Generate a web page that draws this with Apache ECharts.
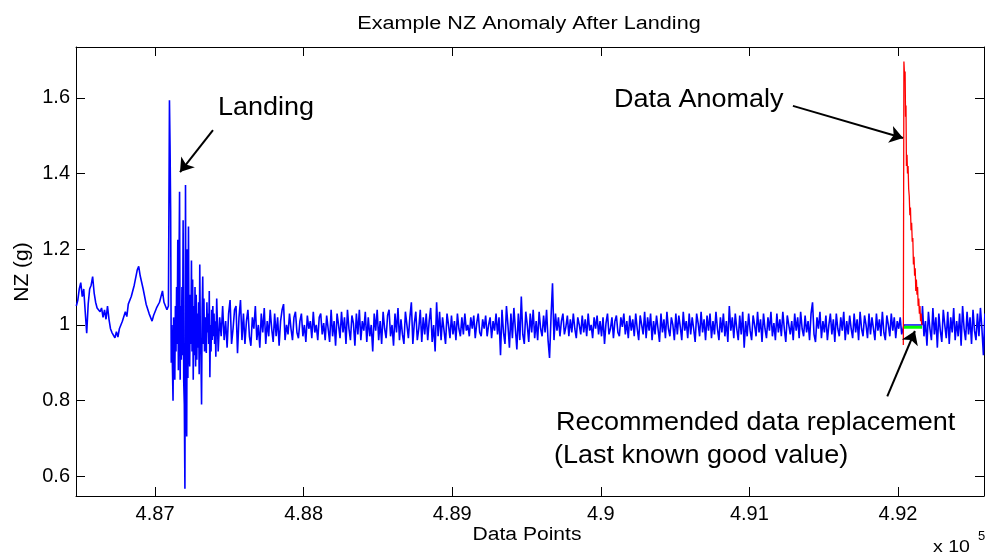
<!DOCTYPE html>
<html>
<head>
<meta charset="utf-8">
<script src="https://cdn.jsdelivr.net/npm/echarts@6/dist/echarts.min.js"></script>
<style>
html,body{margin:0;padding:0;background:#ffffff;}
#chart{width:985px;height:556px;}
</style>
</head>
<body>
<div id="chart"></div>
<script>
// ---------- axis ticks ----------
const xTicks = [487000, 488000, 489000, 490000, 491000, 492000];
const yTicks = [0.6, 0.8, 1.0, 1.2, 1.4, 1.6];
const xRange = [486468, 492579];
const yRange = [0.548, 1.7345];

// ---------- blue NZ trace ----------
// pre-landing
const preLandingStart = 486470, preLandingStep = 10;
const preLanding = [
  1.05, 1.065, 1.095, 1.112, 1.075, 1.095, 1.035, 0.978, 1.055, 1.095,
  1.105, 1.128, 1.085, 1.06, 1.045, 1.05, 1.035, 1.045, 1.02, 1.04,
  1.015, 1.05, 1.015, 0.99, 0.98, 0.982, 0.966, 0.982, 0.968, 0.99,
  0.985, 1.01, 1.01, 1.035, 1.022, 1.055, 1.055, 1.075, 1.08, 1.105,
  1.11, 1.145, 1.155, 1.13, 1.13, 1.095, 1.09, 1.055, 1.05, 1.03,
  1.03, 1.01, 1.025, 1.025, 1.045, 1.045, 1.06, 1.065, 1.09, 1.06,
  1.065, 1.04, 1.05
];
// touchdown
const landingStart = 487093, landingStep = 4;
const landing = [
  1.28, 1.594, 1.47, 1.30, 0.90, 1.00, 0.89, 0.80, 1.02, 0.92,
  0.855, 1.05, 0.93, 1.10, 0.95, 1.225, 0.88, 1.15, 1.352, 0.855,
  1.05, 0.908, 1.10, 0.92, 1.277, 0.85, 0.79, 0.567, 1.37, 0.80,
  0.705, 1.20, 0.86, 1.26, 0.93, 0.89, 1.08, 0.95, 1.17, 0.93,
  1.12, 0.855, 1.05, 0.92, 1.10, 0.89, 1.08, 0.908, 1.03, 0.94,
  1.06, 0.87, 1.16, 0.96, 0.92, 0.79, 1.04, 1.128, 0.95, 1.07,
  0.93, 1.02, 0.96, 0.926, 1.06, 0.98, 1.03, 0.95, 1.09, 0.862,
  1.00, 0.93, 1.04, 0.96, 1.05, 0.97, 1.03, 0.95, 1.01, 0.916
];
// rollout
const rolloutStart = 487415, rolloutStep = 10;
const rollout = [
  1.07, 0.93, 1.02, 0.97, 1.05, 0.96, 1.01, 0.94, 1.03, 1.066,
  0.95, 0.99, 1.04, 1.05, 0.925, 1.02, 1.066, 0.96, 1.03, 0.95,
  1.01, 1.04, 0.97, 0.945, 1.02, 0.99, 1.05, 0.96, 1.00, 0.94,
  1.03, 0.98, 1.045, 0.95, 1.01, 0.97, 1.04, 0.99, 0.955, 1.03,
  0.97, 1.02, 0.945, 1.01, 1.04, 1.055, 0.96, 1.00, 0.975, 1.03,
  0.99, 0.96, 1.02, 1.035, 0.98, 0.965, 1.01, 1.03, 0.97, 1.00,
  0.955, 1.025, 0.99, 1.01, 0.965, 1.035, 0.98, 1.00, 0.96, 1.02,
  1.03, 0.975, 1.005, 0.96, 1.025, 0.99, 0.955, 1.04, 0.97, 1.01,
  0.945, 1.03, 1.00, 0.965, 1.035, 0.98, 1.02, 0.95, 1.04, 0.99,
  0.96, 1.025, 1.005, 0.945, 1.03, 0.975, 1.04, 0.96, 1.01, 0.985,
  1.035, 0.955, 1.02, 0.97, 1.00, 0.93, 1.03, 0.985, 1.04, 0.96,
  1.01, 0.95, 1.035, 0.99, 0.965, 1.025, 1.04, 0.97, 1.00, 0.945,
  1.03, 0.98, 1.045, 0.96, 1.015, 0.975, 0.95, 1.035, 1.00, 0.965,
  1.02, 1.06, 0.95, 1.005, 1.035, 0.96, 0.99, 1.04, 0.955, 1.02,
  0.975, 1.03, 0.96, 1.01, 1.045, 0.955, 1.00, 0.93, 1.06, 0.97,
  1.035, 0.96, 1.02, 0.985, 0.95, 1.03, 1.00, 0.965, 1.025, 0.975,
  1.01, 0.96, 1.03, 0.99, 0.97, 1.02, 0.975, 1.03, 0.985, 1.00,
  0.97, 1.02, 0.99, 1.025, 0.965, 1.005, 1.03, 0.98, 0.97, 1.015,
  0.99, 1.025, 0.97, 1.00, 1.02, 0.965, 1.01, 0.985, 1.03, 0.975,
  1.02, 0.92, 1.04, 0.98, 0.95, 1.05, 1.00, 0.94, 1.03, 0.965,
  1.045, 0.99, 0.935, 1.03, 0.96, 1.075, 0.975, 0.95, 1.035, 1.00,
  0.955, 1.03, 0.98, 1.04, 0.965, 1.01, 0.96, 1.035, 0.99, 0.97,
  1.025, 0.98, 1.04, 0.96, 0.913, 1.02, 1.11, 0.96, 1.03, 0.985,
  1.02, 0.97, 1.01, 1.03, 0.975, 0.995, 1.025, 0.97, 1.015, 0.98,
  1.03, 0.99, 0.965, 1.02, 1.00, 0.975, 1.025, 0.98, 1.015, 0.97,
  1.03, 0.985, 1.00, 0.965, 1.02, 0.99, 1.025, 0.975, 1.01, 0.97,
  1.02, 0.95, 1.005, 1.03, 0.975, 0.99, 1.02, 0.965, 1.01, 1.025,
  0.98, 0.97, 1.02, 0.995, 1.03, 0.975, 1.01, 0.965, 1.025, 0.985,
  1.015, 0.97, 1.03, 0.99, 0.96, 1.025, 1.00, 0.975, 1.035, 0.965,
  1.02, 0.985, 1.03, 0.96, 1.01, 0.975, 1.025, 0.99, 0.955, 1.03,
  0.98, 1.015, 0.965, 1.035, 0.99, 0.97, 1.02, 1.00, 0.96, 1.03,
  0.975, 1.025, 0.995, 0.96, 1.035, 0.985, 1.01, 0.965, 1.03, 0.975,
  1.02, 0.99, 0.955, 1.03, 1.005, 0.97, 1.035, 0.98, 1.015, 0.96,
  1.025, 0.985, 1.03, 0.965, 1.01, 0.975, 1.035, 0.99, 0.96, 1.02,
  0.98, 1.03, 0.97, 1.01, 0.955, 1.05, 0.985, 1.02, 0.965, 1.03,
  0.99, 0.96, 1.025, 0.975, 1.035, 0.94, 1.01, 0.97, 1.03, 0.985,
  0.96, 1.025, 1.00, 0.97, 1.035, 0.98, 1.015, 0.955, 1.03, 0.99,
  0.965, 1.02, 0.985, 1.035, 0.97, 1.005, 0.96, 1.03, 0.98, 1.015,
  0.97, 1.035, 0.99, 0.955, 1.025, 1.00, 0.975, 1.01, 0.96, 1.03,
  0.985, 1.02, 0.965, 1.035, 0.99, 0.97, 1.025, 0.98, 1.01, 0.96,
  1.03, 1.06, 0.975, 0.955, 1.02, 0.99, 1.035, 0.965, 1.01, 0.98,
  1.025, 0.96, 1.00, 1.03, 0.975, 1.015, 0.955, 1.03, 0.99, 0.97,
  1.02, 0.985, 1.035, 0.96, 1.01, 0.975, 1.025, 0.99, 0.965, 1.03,
  0.98, 1.015, 0.96, 1.035, 0.99, 0.97, 1.025, 1.00, 0.965, 1.03,
  0.975, 1.02, 0.99, 0.96, 1.03, 0.985, 1.015, 0.97, 1.035, 0.98,
  0.96, 1.025, 1.00, 0.97, 1.03, 0.985, 1.02, 0.965, 1.01, 0.99,
  1.02, 0.975
];
// held (replaced) portion of the blue trace
const heldX = [492041, 492160];
const heldY = [1.0, 1.0];
// after the anomaly
const afterStart = 492165, afterStep = 10;
const after = [
  1.05, 0.97, 1.01, 0.945, 1.035, 0.99, 0.96, 1.045, 0.975, 1.02,
  0.94, 1.03, 0.985, 0.955, 1.04, 1.00, 0.965, 1.035, 0.95, 1.02,
  0.98, 1.045, 0.96, 1.01, 0.97, 1.03, 0.945, 1.05, 0.99, 0.96,
  1.035, 0.975, 1.02, 0.95, 1.04, 0.985, 0.96, 1.03, 0.97, 1.045,
  0.99, 0.92, 1.03
];

// ---------- red anomaly ----------
const anomalyX = [492036, 492040, 492044, 492048, 492051, 492054, 492057, 492061, 492064, 492068,
  492072, 492076, 492080, 492084, 492088, 492092, 492096, 492100, 492104, 492108,
  492112, 492116, 492120, 492124, 492128, 492132, 492136, 492140, 492144, 492148,
  492152, 492156, 492160];
const anomalyY = [0.947, 1.696, 1.66, 1.67, 1.55, 1.58, 1.42, 1.45, 1.40, 1.42,
  1.36, 1.34, 1.29, 1.31, 1.25, 1.27, 1.22, 1.23, 1.16, 1.18,
  1.13, 1.15, 1.09, 1.12, 1.08, 1.10, 1.05, 1.07, 1.03, 1.05,
  1.01, 1.03, 1.00];

// ---------- green replacement ----------
const replacementX = [492040, 492162];
const replacementY = [0.994, 0.994];

// ---------- annotation arrows (tail -> head, data coordinates) ----------
const arrows = [
  [[487390, 1.515], [487168, 1.404]],
  [[491293, 1.579], [492034, 1.494]],
  [[491928, 0.811], [492114, 0.984]]
];

// ---------- build series data ----------
function seg(start, step, vals) { return vals.map((v, i) => [start + i * step, v]); }
const blueData = [].concat(
  seg(preLandingStart, preLandingStep, preLanding),
  seg(landingStart, landingStep, landing),
  seg(rolloutStart, rolloutStep, rollout),
  heldX.map((x, i) => [x, heldY[i]]),
  seg(afterStart, afterStep, after)
);
const redData = anomalyX.map((x, i) => [x, anomalyY[i]]);
const greenData = replacementX.map((x, i) => [x, replacementY[i]]);

const FONT = "'Liberation Sans', Arial, Helvetica, sans-serif";
const BLACK = '#000000';

function txt(text, x, y, size, sx, align, rot) {
  return {
    type: 'text', x: x, y: y, scaleX: sx || 1, rotation: rot || 0, silent: true, z: 100,
    style: {
      text: text, fontSize: size, fontFamily: FONT, fill: BLACK,
      textAlign: align || 'left', textVerticalAlign: 'middle',
      align: align || 'left', verticalAlign: 'middle'
    }
  };
}

const axisCommon = {
  type: 'value',
  splitLine: { show: false },
  axisLine: { show: true, onZero: false, lineStyle: { color: BLACK, width: 1 } },
  axisTick: { show: true, inside: true, length: 9, lineStyle: { color: BLACK, width: 1 } }
};

const chart = echarts.init(document.getElementById('chart'), null, { renderer: 'canvas' });
chart.setOption({
  animation: false,
  backgroundColor: '#ffffff',
  textStyle: { fontFamily: FONT },
  grid: { left: 76, right: 1, top: 47, bottom: 60, containLabel: false },
  xAxis: [
    Object.assign({}, axisCommon, {
      position: 'bottom', min: xRange[0], max: xRange[1],
      axisTick: Object.assign({}, axisCommon.axisTick, { customValues: xTicks }),
      axisLabel: {
        customValues: xTicks, color: BLACK, fontSize: 20, fontFamily: FONT, margin: 8,
        formatter: v => String(parseFloat((v / 1e5).toFixed(2)))
      }
    }),
    Object.assign({}, axisCommon, {
      position: 'top', min: xRange[0], max: xRange[1],
      axisTick: Object.assign({}, axisCommon.axisTick, { customValues: xTicks }),
      axisLabel: { show: false }
    })
  ],
  yAxis: [
    Object.assign({}, axisCommon, {
      position: 'left', min: yRange[0], max: yRange[1],
      axisTick: Object.assign({}, axisCommon.axisTick, { customValues: yTicks }),
      axisLabel: {
        customValues: yTicks, color: BLACK, fontSize: 20, fontFamily: FONT, margin: 6,
        formatter: v => String(parseFloat(v.toFixed(1)))
      }
    }),
    Object.assign({}, axisCommon, {
      position: 'right', min: yRange[0], max: yRange[1],
      axisTick: Object.assign({}, axisCommon.axisTick, { customValues: yTicks }),
      axisLabel: { show: false }
    })
  ],
  series: [
    {
      name: 'NZ', type: 'line', data: blueData, xAxisIndex: 0, yAxisIndex: 0,
      showSymbol: false, symbol: 'none', clip: true, silent: true, z: 2,
      lineStyle: { color: '#0000ff', width: 1.6 }
    },
    {
      name: 'Anomaly', type: 'line', data: redData, xAxisIndex: 0, yAxisIndex: 0,
      showSymbol: false, symbol: 'none', clip: true, silent: true, z: 3,
      lineStyle: { color: '#ff0000', width: 1.3 }
    },
    {
      name: 'Replacement', type: 'line', data: greenData, xAxisIndex: 0, yAxisIndex: 0,
      showSymbol: false, symbol: 'none', clip: true, silent: true, z: 4,
      lineStyle: { color: '#00ff00', width: 3 },
      markLine: {
        silent: true, animation: false,
        symbol: ['none', 'arrow'], symbolSize: 13,
        label: { show: false },
        lineStyle: { color: BLACK, width: 2, type: 'solid' },
        emphasis: { disabled: true },
        data: arrows.map(a => [{ coord: a[0] }, { coord: a[1] }])
      }
    }
  ],
  graphic: [
    txt('Example NZ Anomaly After Landing', 529, 24, 18, 1.2, 'center'),
    txt('Data Points', 527, 535, 18, 1.17, 'center'),
    txt('NZ (g)', 22, 272, 21, 1, 'center', Math.PI / 2),
    txt('x 10', 933, 547, 17, 1.15, 'left'),
    txt('5', 978, 536, 13, 1, 'left'),
    txt('Landing', 218, 108, 25, 1.08, 'left'),
    txt('Data Anomaly', 614, 100, 25, 1.08, 'left'),
    txt('Recommended data replacement', 556, 423, 25, 1.08, 'left'),
    txt('(Last known good value)', 554, 456, 25, 1.08, 'left')
  ]
});
</script>
</body>
</html>
